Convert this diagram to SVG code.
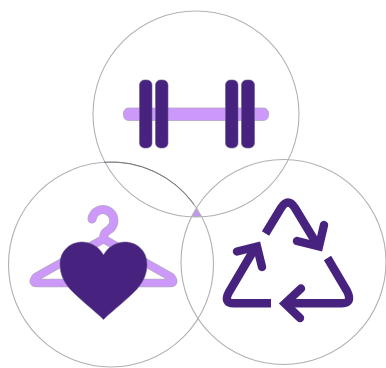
<svg xmlns="http://www.w3.org/2000/svg" width="386" height="368" viewBox="0 0 386 368">
<defs>
<style>
.ring{fill:none;stroke:#b2b0b6;stroke-width:1.1}
.seam{fill:none;stroke:#77767c;stroke-width:1}
.dark{fill:#46237f;stroke:#6a5a8e;stroke-width:.6}
.light{fill:#cc99fb;stroke:#b3a6c4;stroke-width:.8}
.recycle{fill:none;stroke:#46237f;stroke-width:8.400;stroke-linejoin:miter;stroke-linecap:round}
.butt{stroke-linecap:butt}
</style>
<filter id="soft" x="-5%" y="-5%" width="110%" height="110%"><feGaussianBlur stdDeviation="0.35"/></filter>
</defs>
<rect width="386" height="368" fill="#ffffff"/>
<g filter="url(#soft)">
<g id="overlap">
<path d="M196.400 208L191.500 216.800A103 103 0 0 0 201.700 216.800Z" fill="#c09ae8"/>
</g>
<g id="node-fitness">
<circle class="ring" cx="196" cy="114" r="103"/>
<rect class="light" x="123.500" y="108" width="145" height="12.500" rx="5"/>
<rect class="dark" x="139.500" y="80" width="12.500" height="68" rx="5"/>
<rect class="dark" x="155.500" y="80" width="12.500" height="68" rx="5"/>
<rect class="dark" x="225.500" y="80" width="12.500" height="68" rx="5"/>
<rect class="dark" x="241.500" y="80" width="13" height="68" rx="5"/>
</g>
<g id="node-clothing">
<circle class="ring" cx="111" cy="264.500" r="102.500"/>
<path class="seam" d="M104 162.240A102.500 102.500 0 0 1 194 204.400"/>
<path d="M92 219A11 11 0 1 1 110 229C105 232 103.500 233.500 103.500 239" fill="none" stroke="#b3a6c4" stroke-width="9" stroke-linecap="round"/>
<path d="M103.500 239L36 277Q31 283 37 283H170Q176 283 171 277Z" fill="none" stroke="#b3a6c4" stroke-width="8.400" stroke-linejoin="round"/>
<path d="M92 219A11 11 0 1 1 110 229C105 232 103.500 233.500 103.500 239" fill="none" stroke="#cc99fb" stroke-width="7.600" stroke-linecap="round"/>
<path d="M103.500 239L36 277Q31 283 37 283H170Q176 283 171 277Z" fill="none" stroke="#cc99fb" stroke-width="7" stroke-linejoin="round"/>
<path class="dark" d="M103.500 319.500C95 311 78 298 70 289C63 281 60 273 60 264C60 251 70 242 82 242C91 242 99 247 103.500 255C108 247 116 242 125 242C137 242 147 251 147 264C147 273 144 281 137 289C129 298 112 311 103.500 319.500Z"/>
</g>
<g id="node-recycling">
<circle class="ring" cx="283.500" cy="262" r="102.500"/>
<path class="recycle butt" d="M265.500 233.500L281 208Q288 197 295 208L318 246"/>
<path class="recycle" d="M297 241L319 246.500L324 225"/>
<path class="recycle butt" d="M327.500 258L347 291Q353 303.300 342 303.300H286"/>
<path class="recycle" d="M301 288.500L285 303.500L300 318"/>
<path class="recycle butt" d="M271 303.300H234Q223 303.300 229 292L255 248"/>
<path class="recycle" d="M237 251.500L257 246.500L262 267"/>
</g>
</g>
</svg>
